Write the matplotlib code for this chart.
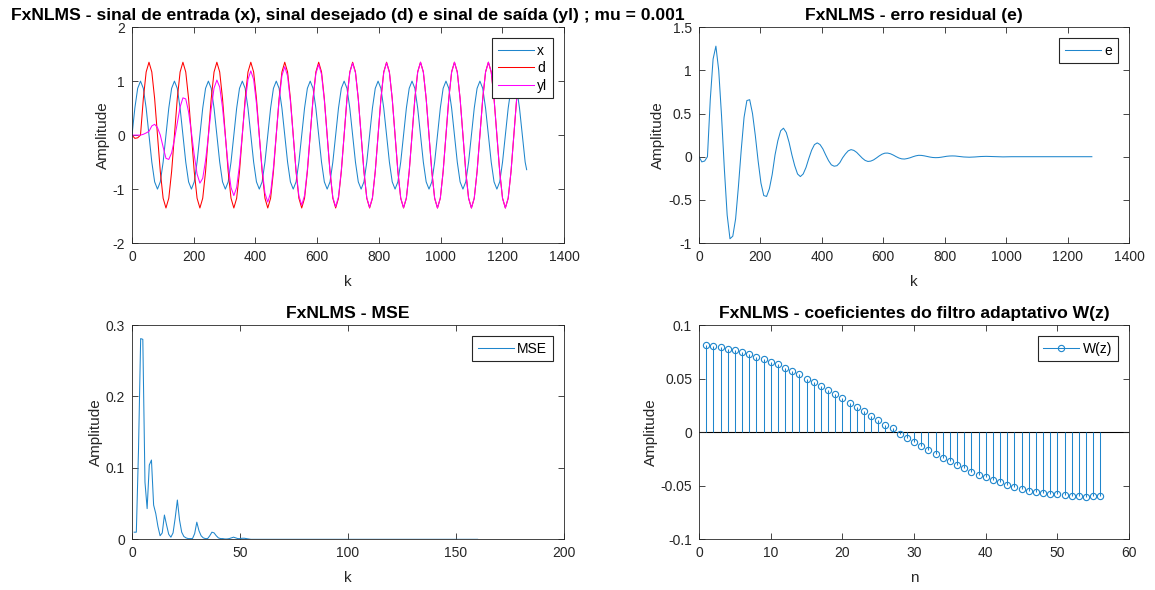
import numpy as np
import matplotlib
matplotlib.use("Agg")
import matplotlib.pyplot as plt
from matplotlib.ticker import FuncFormatter, MultipleLocator
from matplotlib.lines import Line2D
from matplotlib.legend_handler import HandlerLine2D

plt.rcParams['font.family'] = ['Liberation Sans', 'DejaVu Sans']
plt.rcParams['axes.unicode_minus'] = False

# ---- dados ----
# amostras a cada 110/12 de k (12 pontos por periodo), ultimo ponto em k = 1279
passo = 110 / 12
n_amostras = 140
k_fim = 1279

x = [0, 0.5, 0.866, 1, 0.866, 0.5, 0, -0.5, -0.866, -1, -0.866, -0.5,
     0, 0.5, 0.866, 1, 0.866, 0.5, 0, -0.5, -0.866, -1, -0.866, -0.5,
     0, 0.5, 0.866, 1, 0.866, 0.5, 0, -0.5, -0.866, -1, -0.866, -0.5,
     0, 0.5, 0.866, 1, 0.866, 0.5, 0, -0.5, -0.866, -1, -0.866, -0.5,
     0, 0.5, 0.866, 1, 0.866, 0.5, 0, -0.5, -0.866, -1, -0.866, -0.5,
     0, 0.5, 0.866, 1, 0.866, 0.5, 0, -0.5, -0.866, -1, -0.866, -0.5,
     0, 0.5, 0.866, 1, 0.866, 0.5, 0, -0.5, -0.866, -1, -0.866, -0.5,
     0, 0.5, 0.866, 1, 0.866, 0.5, 0, -0.5, -0.866, -1, -0.866, -0.5,
     0, 0.5, 0.866, 1, 0.866, 0.5, 0, -0.5, -0.866, -1, -0.866, -0.5,
     0, 0.5, 0.866, 1, 0.866, 0.5, 0, -0.5, -0.866, -1, -0.866, -0.5,
     0, 0.5, 0.866, 1, 0.866, 0.5, 0, -0.5, -0.866, -1, -0.866, -0.5,
     0, 0.5, 0.866, 1, 0.866, 0.5, 0, -0.5,
     -0.64]

d = [0, -0.06, -0.05, 0, 0.675, 1.169, 1.35, 1.169, 0.675, 0, -0.675, -1.169,
     -1.35, -1.169, -0.675, 0, 0.675, 1.169, 1.35, 1.169, 0.675, 0, -0.675, -1.169,
     -1.35, -1.169, -0.675, 0, 0.675, 1.169, 1.35, 1.169, 0.675, 0, -0.675, -1.169,
     -1.35, -1.169, -0.675, 0, 0.675, 1.169, 1.35, 1.169, 0.675, 0, -0.675, -1.169,
     -1.35, -1.169, -0.675, 0, 0.675, 1.169, 1.35, 1.169, 0.675, 0, -0.675, -1.169,
     -1.35, -1.169, -0.675, 0, 0.675, 1.169, 1.35, 1.169, 0.675, 0, -0.675, -1.169,
     -1.35, -1.169, -0.675, 0, 0.675, 1.169, 1.35, 1.169, 0.675, 0, -0.675, -1.169,
     -1.35, -1.169, -0.675, 0, 0.675, 1.169, 1.35, 1.169, 0.675, 0, -0.675, -1.169,
     -1.35, -1.169, -0.675, 0, 0.675, 1.169, 1.35, 1.169, 0.675, 0, -0.675, -1.169,
     -1.35, -1.169, -0.675, 0, 0.675, 1.169, 1.35, 1.169, 0.675, 0, -0.675, -1.169,
     -1.35, -1.169, -0.675, 0, 0.675, 1.169, 1.35, 1.169, 0.675, 0, -0.675, -1.169,
     -1.35, -1.169, -0.675, 0, 0.675, 1.169, 1.35, 1.169,
     0.94]

yl = [0, 0, 0, 0, 0.015, 0.04, 0.07, 0.17, 0.2, 0.14, 0.0, -0.22,
      -0.43, -0.45, -0.33, -0.08, 0.22, 0.52, 0.69, 0.67, 0.43, 0.05, -0.37, -0.72,
      -0.89, -0.80, -0.47, -0.02, 0.49, 0.87, 1.02, 0.89, 0.51, -0.02, -0.57, -0.97,
      -1.12, -0.97, -0.55, 0.02, 0.6, 1.03, 1.19, 1.03, 0.585, -0.02, -0.63, -1.075,
      -1.24, -1.065, -0.605, 0.013, 0.643, 1.101, 1.268, 1.096, 0.625, -0.017, -0.658, -1.126,
      -1.295, -1.118, -0.638, 0.015, 0.666, 1.14, 1.309, 1.127, 0.641, -0.019, -0.676, -1.154,
      -1.325, -1.142, -0.654, 0.012, 0.675, 1.159, 1.334, 1.154, 0.665, -0.003, -0.671, -1.16,
      -1.339, -1.159, -0.669, 0, 0.67, 1.161, 1.341, 1.161, 0.671, 0, -0.672, -1.164,
      -1.344, -1.164, -0.672, 0, 0.675, 1.169, 1.35, 1.169, 0.675, 0, -0.675, -1.169,
      -1.35, -1.169, -0.675, 0, 0.675, 1.169, 1.35, 1.169, 0.675, 0, -0.675, -1.169,
      -1.35, -1.169, -0.675, 0, 0.675, 1.169, 1.35, 1.169, 0.675, 0, -0.675, -1.169,
      -1.35, -1.169, -0.675, 0, 0.675, 1.169, 1.35, 1.169,
      0.94]

e = [0, -0.06, -0.05, 0.0, 0.66, 1.13, 1.28, 1.0, 0.475, -0.14, -0.675, -0.95,
     -0.92, -0.72, -0.345, 0.08, 0.455, 0.65, 0.66, 0.5, 0.245, -0.05, -0.305, -0.45,
     -0.46, -0.37, -0.205, 0.02, 0.185, 0.30, 0.33, 0.28, 0.165, 0.02, -0.105, -0.2,
     -0.23, -0.2, -0.125, -0.02, 0.075, 0.14, 0.16, 0.14, 0.09, 0.02, -0.045, -0.094,
     -0.11, -0.104, -0.07, -0.013, 0.032, 0.068, 0.082, 0.073, 0.05, 0.017, -0.017, -0.043,
     -0.055, -0.051, -0.037, -0.015, 0.009, 0.029, 0.041, 0.042, 0.034, 0.019, 0.001, -0.015,
     -0.025, -0.027, -0.021, -0.012, 0.0, 0.01, 0.016, 0.015, 0.01, 0.003, -0.004, -0.009,
     -0.011, -0.01, -0.006, 0.0, 0.005, 0.008, 0.009, 0.008, 0.004, 0.0, -0.003, -0.005,
     -0.006, -0.005, -0.003, 0.0, 0.002, 0.003, 0.004, 0.003, 0.002, 0.0, -0.001, -0.002,
     -0.002, -0.001, 0, 0, 0, 0, 0, 0, 0, 0, 0, 0,
     0, 0, 0, 0, 0, 0, 0, 0, 0, 0, 0, 0,
     0, 0, 0, 0, 0, 0, 0, 0,
     0]

# MSE por bloco (k = 1..160)
mse = [0.010, 0.010, 0.125, 0.281, 0.280, 0.080, 0.043, 0.104, 0.111, 0.048,
       0.036, 0.018, 0.005, 0.009, 0.034, 0.020, 0.007, 0.003, 0.009, 0.030,
       0.055, 0.027, 0.010, 0.004, 0.002, 0.001, 0.001, 0.001, 0.008, 0.024,
       0.012, 0.005, 0.002, 0.001, 0.001, 0.005, 0.010, 0.009, 0.005, 0.002,
       0.001, 0.001, 0.0005, 0.0005, 0.001, 0.002, 0.003, 0.002, 0.001, 0.001,
       0.0015, 0.0015, 0.001, 0.0005] + [0.0] * 106

# coeficientes do filtro adaptativo W(z), n = 1..56
w = [0.0814, 0.0807, 0.0792, 0.0780, 0.0767, 0.0752, 0.0730, 0.0705, 0.0680, 0.0658,
     0.0634, 0.0602, 0.0571, 0.0543, 0.0500, 0.0469, 0.0429, 0.0394, 0.0354, 0.0317,
     0.0276, 0.0236, 0.0199, 0.0149, 0.0112, 0.0071, 0.0037, -0.0019, -0.0053, -0.0096,
     -0.0127, -0.0168, -0.0202, -0.0239, -0.0273, -0.0304, -0.0335, -0.0370, -0.0398, -0.0422,
     -0.0444, -0.0469, -0.0491, -0.0512, -0.0531, -0.0547, -0.0559, -0.0568, -0.0575, -0.0581,
     -0.0590, -0.0600, -0.0600, -0.0602, -0.0593, -0.0593]

k = np.append(np.arange(n_amostras) * passo, k_fim)
k_mse = np.arange(1, len(mse) + 1)
n_w = np.arange(1, len(w) + 1)

azul = '#1F86CC'
cinza = '#262626'
fmt = FuncFormatter(lambda v, p: f'{v:g}')


class HandlerStem(HandlerLine2D):
    # linha com o marcador na ponta direita (estilo MATLAB)
    def get_xdata(self, legend, xdescent, ydescent, width, height, fontsize):
        xd = np.array([-xdescent, -xdescent + width])
        return xd, np.array([-xdescent + width * 0.88])


def estilo(ax, titulo, xlabel):
    ax.set_title(titulo, fontsize=12.6, fontweight='bold', pad=5)
    ax.set_xlabel(xlabel, fontsize=11, color=cinza, labelpad=8)
    ax.set_ylabel('Amplitude', fontsize=11, color=cinza, labelpad=2)
    ax.tick_params(direction='in', top=True, right=True, length=4, width=0.6,
                   labelsize=10, colors=cinza, pad=5)
    for s in ax.spines.values():
        s.set_color(cinza)
        s.set_linewidth(0.6)
    ax.xaxis.set_major_formatter(fmt)
    ax.yaxis.set_major_formatter(fmt)


def legenda(ax, **kw):
    leg = ax.legend(loc='upper right', fontsize=10, fancybox=False, framealpha=1,
                    edgecolor=cinza, borderaxespad=0.8, handlelength=2.6,
                    handletextpad=0.25, labelspacing=0.25, borderpad=0.4, **kw)
    leg.get_frame().set_linewidth(0.8)
    return leg


fig = plt.figure(figsize=(11.55, 5.9), dpi=100)
ax1 = fig.add_axes([0.1143, 0.588, 0.374, 0.366])
ax2 = fig.add_axes([0.6052, 0.588, 0.3723, 0.366])
ax3 = fig.add_axes([0.1143, 0.0859, 0.374, 0.3632])
ax4 = fig.add_axes([0.6052, 0.0859, 0.3723, 0.3632])

# 1) x, d, yl
ax1.plot(k, x, color=azul, lw=0.75, label='x')
ax1.plot(k, d, color='#FF0000', lw=0.75, label='d')
ax1.plot(k, yl, color='#FF00FF', lw=0.75, label='yl')
ax1.set_xlim(0, 1400)
ax1.set_ylim(-2, 2)
ax1.xaxis.set_major_locator(MultipleLocator(200))
ax1.yaxis.set_major_locator(MultipleLocator(1))
estilo(ax1, 'FxNLMS - sinal de entrada (x), sinal desejado (d) e sinal de saída (yl) ; mu = 0.001', 'k')
legenda(ax1)

# 2) erro residual
ax2.plot(k, e, color=azul, lw=0.75, label='e')
ax2.set_xlim(0, 1400)
ax2.set_ylim(-1, 1.5)
ax2.xaxis.set_major_locator(MultipleLocator(200))
ax2.yaxis.set_major_locator(MultipleLocator(0.5))
estilo(ax2, 'FxNLMS - erro residual (e)', 'k')
legenda(ax2)

# 3) MSE
ax3.plot(k_mse, mse, color=azul, lw=0.75, label='MSE')
ax3.set_xlim(0, 200)
ax3.set_ylim(0, 0.3)
ax3.xaxis.set_major_locator(MultipleLocator(50))
ax3.yaxis.set_major_locator(MultipleLocator(0.1))
estilo(ax3, 'FxNLMS - MSE', 'k')
legenda(ax3)

# 4) coeficientes W(z)
ax4.axhline(0, color='k', lw=0.8, zorder=1)
ax4.vlines(n_w, 0, w, color=azul, lw=0.75, zorder=2)
ax4.plot(n_w, w, 'o', mfc='none', mec=azul, ms=4.5, mew=0.8, zorder=3)
ax4.set_xlim(0, 60)
ax4.set_ylim(-0.1, 0.1)
ax4.xaxis.set_major_locator(MultipleLocator(10))
ax4.yaxis.set_major_locator(MultipleLocator(0.05))
estilo(ax4, 'FxNLMS - coeficientes do filtro adaptativo W(z)', 'n')
proxy = Line2D([], [], color=azul, lw=0.75, marker='o', mfc='none', mec=azul, ms=4.5, mew=0.8)
legenda(ax4, handles=[proxy], labels=['W(z)'], handler_map={proxy: HandlerStem(numpoints=1)})

fig.savefig('out.png', dpi=100)
